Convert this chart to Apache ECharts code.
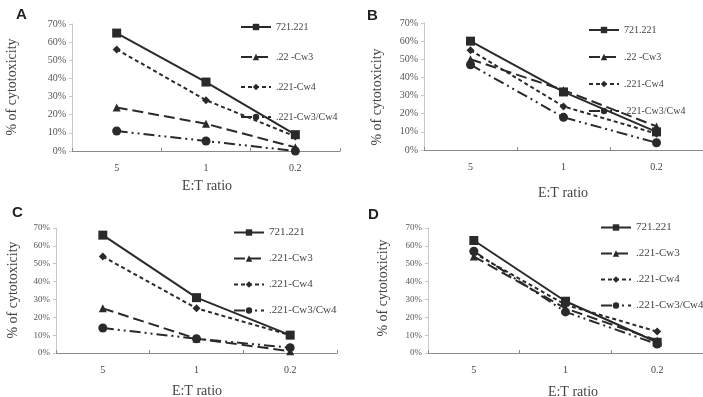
<!DOCTYPE html>
<html>
<head>
<meta charset="utf-8">
<script src="https://cdn.jsdelivr.net/npm/echarts@6/dist/echarts.min.js"></script>
<style>
  html, body { margin: 0; padding: 0; background: #fff; }
  #main { width: 703px; height: 397px; }
</style>
</head>
<body>
<div id="main"></div>
<script>
// E:T ratio categories
const ratios = ['5', '1', '0.2'];
const yTicks = [0, 10, 20, 30, 40, 50, 60, 70];

// panel A
const namesA = ['721.221', '.22 -Cw3', '.221-Cw4', '.221-Cw3/Cw4'];
const a721 = [65, 38, 9];
const aCw3 = [24, 15, 2];
const aCw4 = [56, 28, 8];
const aCw34 = [11, 5.5, 0];

// panel B
const namesB = ['721.221', '.22 -Cw3', '.221-Cw4', '.221-Cw3/Cw4'];
const b721 = [60, 32, 10];
const bCw3 = [50, 33, 13];
const bCw4 = [55, 24, 9];
const bCw34 = [47, 18, 4];

// panel C
const namesC = ['721.221', '.221-Cw3', '.221-Cw4', '.221-Cw3/Cw4'];
const c721 = [66, 31, 10];
const cCw3 = [25, 8, 1];
const cCw4 = [54, 25, 10];
const cCw34 = [14, 8, 3];

// panel D
const namesD = ['721.221', '.221-Cw3', '.221-Cw4', '.221-Cw3/Cw4'];
const d721 = [63, 29, 6];
const dCw3 = [54, 25, 7];
const dCw4 = [56, 27, 12];
const dCw34 = [57, 23, 5];

const chart = echarts.init(document.getElementById('main'));
const serif = '"Liberation Serif", "DejaVu Serif", serif';
const ink = '#2a2a2a';

// line style per series position
const styles = [
  { symbol: 'rect', size: 9, type: 'solid' },
  { symbol: 'triangle', size: 8, type: [11, 5] },
  { symbol: 'diamond', size: 8, type: [4, 3] },
  { symbol: 'circle', size: 9, type: [11, 4, 2, 4, 2, 4] }
];

// panel geometry
const panels = [
  { letter: 'A', names: namesA, data: [a721, aCw3, aCw4, aCw34],
    grid: { left: 72, top: 24, width: 268, height: 127 },
    letterPos: [16, 7], yName: [12, 87], xName: [207, 186],
    legend: { left: 240, top: 22, gap: 20, font: 10 } },
  { letter: 'B', names: namesB, data: [b721, bCw3, bCw4, bCw34],
    grid: { left: 424, top: 23, width: 282, height: 127 },
    letterPos: [367, 8], yName: [377, 97], xName: [563, 193],
    legend: { left: 588, top: 25, gap: 17, font: 10 } },
  { letter: 'C', names: namesC, data: [c721, cCw3, cCw4, cCw34],
    grid: { left: 56, top: 228, width: 281, height: 125 },
    letterPos: [12, 205], yName: [13, 290], xName: [197, 391],
    legend: { left: 233, top: 227, gap: 15, font: 11 } },
  { letter: 'D', names: namesD, data: [d721, dCw3, dCw4, dCw34],
    grid: { left: 428, top: 228, width: 285, height: 125 },
    letterPos: [368, 207], yName: [383, 288], xName: [573, 392],
    legend: { left: 600, top: 222, gap: 15, font: 11 } }
];

const grid = [], xAxis = [], yAxis = [], series = [], legend = [], graphic = [];

panels.forEach(function (p, i) {
  grid.push(Object.assign({}, p.grid));
  xAxis.push({
    type: 'category', gridIndex: i, data: ratios, boundaryGap: true,
    axisLine: { lineStyle: { color: '#8a8a8a', width: 1.2 } },
    axisTick: { show: true, inside: true, length: 3, lineStyle: { color: '#8a8a8a' } },
    axisLabel: { color: '#444', fontFamily: serif, fontSize: 10, margin: 12 }
  });
  yAxis.push({
    type: 'value', gridIndex: i, min: yTicks[0], max: yTicks[yTicks.length - 1], interval: 10,
    splitLine: { show: false },
    axisLine: { show: true, lineStyle: { color: '#c8c8c8' } },
    axisTick: { show: true, length: 3, lineStyle: { color: '#c8c8c8' } },
    axisLabel: { color: '#555', fontFamily: serif, fontSize: i < 2 ? 10 : 9, formatter: '{value}%', margin: 6 }
  });
  p.names.forEach(function (name, k) {
    const s = styles[k];
    series.push({
      name: name, type: 'line', xAxisIndex: i, yAxisIndex: i,
      data: p.data[k],
      symbol: s.symbol, symbolSize: s.size,
      itemStyle: { color: ink },
      lineStyle: { color: ink, width: 2, type: s.type },
      emphasis: { disabled: true },
      animation: false
    });
  });
  legend.push({
    data: p.names, orient: 'vertical', left: p.legend.left, top: p.legend.top,
    padding: 0, itemGap: p.legend.gap, itemWidth: 30, itemHeight: 8,
    textStyle: { color: '#444', fontFamily: serif, fontSize: p.legend.font },
    selectedMode: false
  });
  graphic.push({
    type: 'text', left: p.letterPos[0], top: p.letterPos[1],
    style: { text: p.letter, font: 'bold 15px "Liberation Sans", Arial, sans-serif', fill: '#222' }
  });
  graphic.push({
    type: 'text', x: p.yName[0], y: p.yName[1], rotation: Math.PI / 2,
    style: { text: '% of cytotoxicity', font: '14px ' + serif, fill: '#444',
      align: 'center', verticalAlign: 'middle' }
  });
  graphic.push({
    type: 'text', x: p.xName[0], y: p.xName[1],
    style: { text: 'E:T ratio', font: '14px ' + serif, fill: '#444',
      align: 'center', verticalAlign: 'middle' }
  });
});

chart.setOption({
  animation: false,
  grid: grid,
  xAxis: xAxis,
  yAxis: yAxis,
  legend: legend,
  series: series,
  graphic: graphic
});
</script>
</body>
</html>
